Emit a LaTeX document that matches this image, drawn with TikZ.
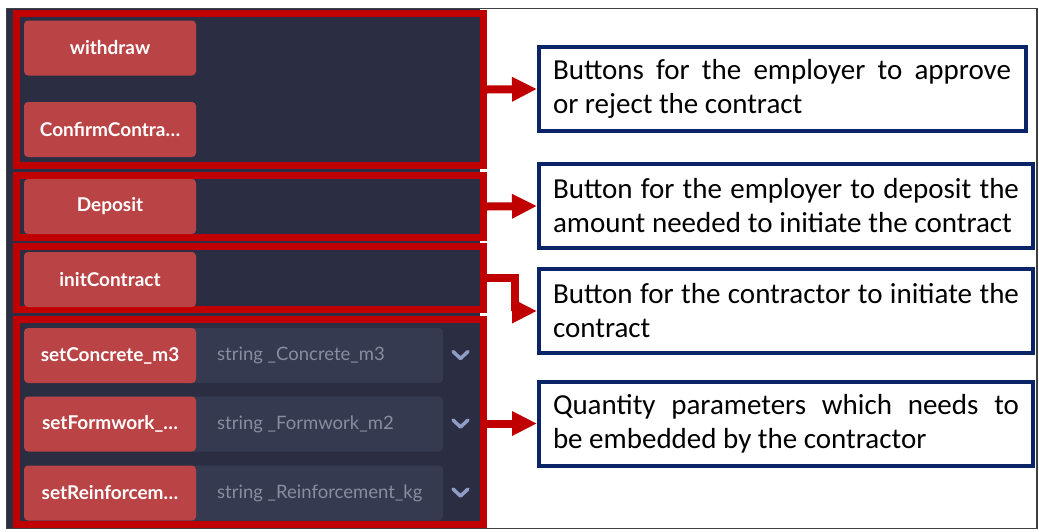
\documentclass[tikz,border=0pt]{standalone}
\usepackage{fontspec}
\setmainfont{Carlito}
\newfontfamily\uifont{Lato}
\usetikzlibrary{arrows.meta}
\definecolor{panel}{HTML}{2B2E42}
\definecolor{btn}{HTML}{B94345}
\definecolor{field}{HTML}{363A51}
\definecolor{frame}{HTML}{C00000}
\definecolor{navy}{HTML}{0B2468}
\definecolor{chev}{HTML}{8E9CC6}
\definecolor{ph}{HTML}{8A8D9F}
\newcommand\resetsp{\spaceskip=0pt\xspaceskip=0pt\relax}
\newcommand\jline[2]{\makebox[#1][s]{\resetsp #2}}
\begin{document}
\begin{tikzpicture}[x=1pt,y=-1pt,
  redframe/.style={draw=frame, line width=7pt, minimum width=467pt, inner sep=0pt},
  uibtn/.style={fill=btn, rounded corners=4pt, minimum width=172pt, minimum height=55pt, inner sep=0pt,
     text=white, font=\uifont\bfseries\fontsize{19}{22}\selectfont},
  uifield/.style={fill=field, rounded corners=4pt, minimum width=257pt, minimum height=55pt, inner sep=0pt},
  phtext/.style={anchor=west, inner sep=0pt, text=ph, font=\uifont\fontsize{18.5}{22}\selectfont},
  chevst/.style={draw=chev, line width=3.5pt, line cap=round, line join=round},
  notebox/.style={draw=navy, line width=4pt, inner xsep=14pt, inner ysep=0pt, align=left,
     minimum height=84pt, font=\fontsize{29}{34}\selectfont},
  redarrow/.style={draw=frame, line width=8pt, -{Triangle[length=25pt,width=23pt]}}
]
\useasboundingbox (0,0) rectangle (1039,531);
% dark panel
\fill[panel] (6,8) rectangle (480,528);
% frames
\node[redframe, minimum height=152pt] (f1) at (250,89.5) {};
\node[redframe, minimum height=62pt] (f2) at (250,206.5) {};
\node[redframe, minimum height=63pt] (f3) at (250,278) {};
\node[redframe, minimum height=205pt] (f4) at (250,422) {};
% buttons
\node[uibtn] (bw) at (110,48) {withdraw};
\node[uibtn] (bc) at (110,129.5) {ConfirmContra…};
\node[uibtn] (bd) at (110,206.5) {Deposit};
\node[uibtn] (bi) at (110,279.5) {initContract};
% input rows
\node[uifield] (fc) at (314.5,355.5) {};
\node[uifield] (ff) at (314.5,424) {};
\node[uifield] (fr) at (314.5,493) {};
\node[uibtn] (bsc) at (110,355.5) {setConcrete\_m3};
\node[uibtn] (bsf) at (110,424) {setFormwork\_…};
\node[uibtn] (bsr) at (110,493) {setReinforcem…};
\node[phtext] (pc) at (217,355.5) {string \_Concrete\_m3};
\node[phtext] (pf) at (217,424) {string \_Formwork\_m2};
\node[phtext] (pr) at (217,493) {string \_Reinforcement\_kg};
\draw[chevst] (453,351.5) -- (460.5,358.5) -- (468,351.5);
\draw[chevst] (453,420) -- (460.5,427) -- (468,420);
\draw[chevst] (453,489) -- (460.5,496) -- (468,489);
% note boxes
\node[notebox, minimum width=487pt, text width=459pt] (b1) at (782.5,89)
  {\resetsp\jline{458pt}{Buttons for the employer to approve}\\or reject the contract};
\node[notebox, minimum width=494pt, text width=466pt] (b2) at (786,206)
  {\resetsp\jline{466pt}{Button for the employer to deposit the}\\\jline{459pt}{amount needed to initiate the contract}};
\node[notebox, minimum width=494pt, text width=466pt] (b3) at (786,311)
  {\resetsp\jline{466pt}{Button for the contractor to initiate the}\\contract};
\node[notebox, minimum width=494pt, text width=466pt] (b4) at (786,423.5)
  {\resetsp\jline{466pt}{Quantity parameters which needs to}\\be embedded by the contractor};
% arrows
\draw[redarrow] (f1.east) -- (b1.west);
\draw[redarrow] (f2.east) -- (b2.west);
\draw[redarrow] (f3.east) -- ++(27.5,0) |- (b3.west);
\draw[redarrow] (f4.east |- b4.west) -- (b4.west);
% outer border
\draw[line width=1.2pt, black!75] (6.5,8.5) rectangle (1037,528.8);
\end{tikzpicture}
\end{document}
